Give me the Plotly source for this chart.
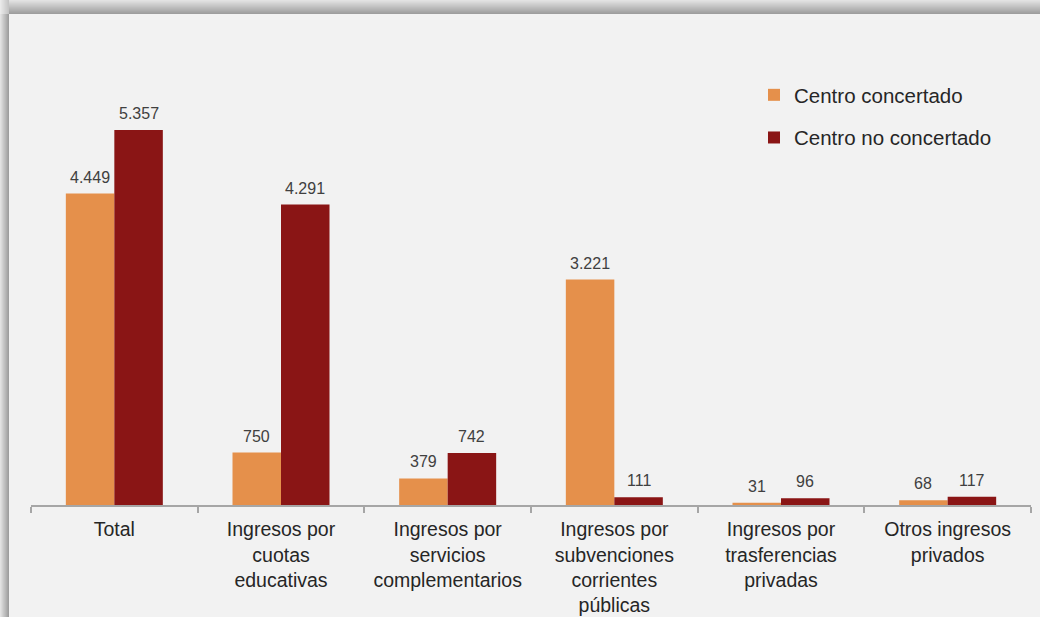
import plotly.graph_objects as go

# Categories (x axis) and income per student for each type of school
categories = [
    "Total",
    "Ingresos por<br>cuotas<br>educativas",
    "Ingresos por<br>servicios<br>complementarios",
    "Ingresos por<br>subvenciones<br>corrientes<br>públicas",
    "Ingresos por<br>trasferencias<br>privadas",
    "Otros ingresos<br>privados",
]
concertado = [4449, 750, 379, 3221, 31, 68]
no_concertado = [5357, 4291, 742, 111, 96, 117]

series_names = ["Centro concertado", "Centro no concertado"]
colors = ["#E5904B", "#8A1515"]

W, H = 1040, 617
ML, MR, MT, MB = 31, 9, 40, 112
PW, PH = W - ML - MR, H - MT - MB
PX_PER_UNIT = 375 / 5357
Y_MAX = PH / PX_PER_UNIT
BARGAP = 0.418
BAR_PX = PW / len(categories) * (1 - BARGAP) / 2

FONT = "Liberation Sans, Arial, sans-serif"


def fmt(v):
    return f"{v:,}".replace(",", ".")


fig = go.Figure()
annotations = []
for k, (name, vals, col) in enumerate(zip(series_names, [concertado, no_concertado], colors)):
    fig.add_trace(go.Bar(
        name=name,
        x=categories,
        y=vals,
        marker=dict(color=col, line=dict(width=0)),
        legendgroup=name,
        hoverinfo="x+y",
    ))
    # value label above each bar
    offset = (k - 0.5) * BAR_PX
    for cat, v in zip(categories, vals):
        annotations.append(dict(
            x=cat, y=v, xref="x", yref="y",
            text=fmt(v), showarrow=False,
            xanchor="center", yanchor="bottom",
            xshift=offset, yshift=6,
            font=dict(family=FONT, size=16, color="#404040"),
        ))


def px_x(px):
    return (px - ML) / PW


def px_y(py):
    return (MT + PH - py) / PH


def grey(t, light=226, dark=158):
    v = round(light + (dark - light) * t)
    return f"rgb({v},{v},{v})"


# Drop shadow along the top and left edges of the panel
shapes = []
panel_left, panel_top = 9, 14
for i in range(panel_top):
    shapes.append(dict(
        type="rect", xref="paper", yref="paper", layer="below",
        x0=px_x(panel_left), x1=px_x(W), y0=px_y(i), y1=px_y(i + 1),
        fillcolor=grey(i / (panel_top - 1)), line=dict(width=0),
    ))
for i in range(panel_left):
    shapes.append(dict(
        type="rect", xref="paper", yref="paper", layer="below",
        x0=px_x(i), x1=px_x(i + 1), y0=px_y(panel_top), y1=px_y(H),
        fillcolor=grey(i / (panel_left - 1)), line=dict(width=0),
    ))
for i in range(panel_left):
    shapes.append(dict(
        type="rect", xref="paper", yref="paper", layer="below",
        x0=px_x(i), x1=px_x(i + 1), y0=px_y(0), y1=px_y(panel_top),
        fillcolor=grey(i / (panel_left - 1), 234, 196), line=dict(width=0),
    ))

fig.update_layout(
    width=W, height=H,
    margin=dict(l=ML, r=MR, t=MT, b=MB, pad=0, autoexpand=False),
    paper_bgcolor="#F2F2F2",
    plot_bgcolor="rgba(0,0,0,0)",
    separators=",.",
    barmode="group",
    bargap=BARGAP,
    bargroupgap=0,
    showlegend=True,
    legend=dict(
        x=px_x(754), xanchor="left",
        y=px_y(75), yanchor="top",
        font=dict(family=FONT, size=20.5, color="#262626"),
        bgcolor="rgba(0,0,0,0)",
        traceorder="grouped",
        tracegroupgap=13,
    ),
    shapes=shapes,
    annotations=annotations,
    font=dict(family=FONT),
)

fig.update_xaxes(
    automargin=False,
    showgrid=False,
    showline=True, linecolor="#A6A6A6", linewidth=1.5,
    ticks="outside", tickson="boundaries", ticklen=6,
    tickcolor="#A6A6A6", tickwidth=1.5,
    tickfont=dict(family=FONT, size=19.5, color="#262626"),
    ticklabelstandoff=6,
    tickangle=0,
)
fig.update_yaxes(
    automargin=False,
    range=[0, Y_MAX],
    visible=False,
    showgrid=False,
    zeroline=False,
)

fig.write_html("out.html")
